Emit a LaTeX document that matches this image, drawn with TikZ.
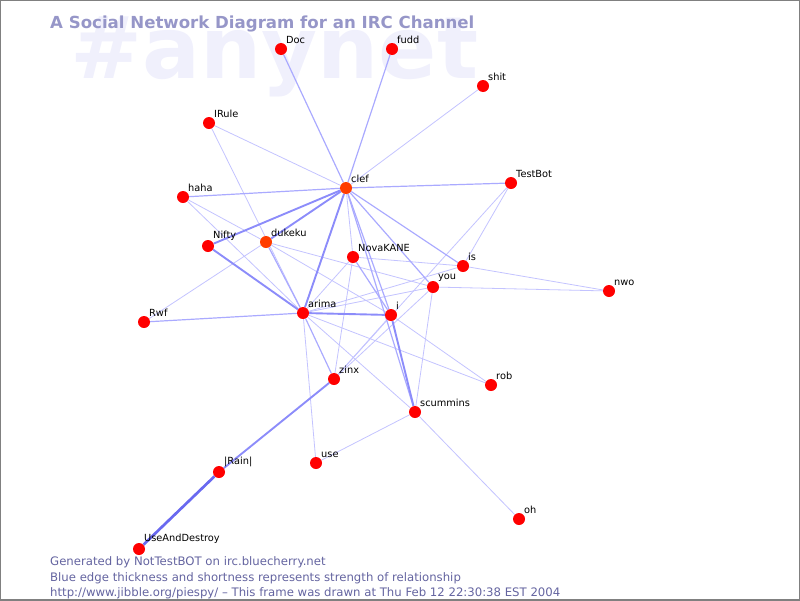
\documentclass[tikz,border=0pt]{standalone}
\usepackage{fontspec}
\usepackage{tikz}
\usetikzlibrary{backgrounds}
\newfontfamily\dvs{DejaVu Sans}
\definecolor{nick}{RGB}{255,0,0}
\definecolor{hot}{RGB}{255,60,0}
\definecolor{wm}{RGB}{240,240,252}
\definecolor{ttl}{RGB}{150,150,200}
\definecolor{foot}{RGB}{100,100,160}
\definecolor{eweak}{RGB}{195,195,255}
\definecolor{emid}{RGB}{170,170,255}
\definecolor{estrong}{RGB}{140,140,250}
\definecolor{etop}{RGB}{105,105,240}

\begin{document}
\begin{tikzpicture}
[x=1pt,y=-1pt]
\tikzset{nk/.style={circle,fill=nick,inner sep=0pt,minimum size=12pt}}
\tikzset{nkhot/.style={nk,fill=hot}}
\tikzset{lbl/.style={anchor=south west,inner sep=0.6pt,font=\dvs\fontsize{9.8}{11}\selectfont}}
\tikzset{ftr/.style={anchor=base west,inner sep=0pt,text=foot,font=\dvs\fontsize{11.7}{13}\selectfont}}
\tikzset{weak/.style={draw=eweak,line width=0.8pt}}
\tikzset{mid/.style={draw=emid,line width=1.2pt}}
\tikzset{strong/.style={draw=estrong,line width=1.9pt}}
\tikzset{top/.style={draw=etop,line width=2.7pt}}
\useasboundingbox (0,0) rectangle (800,600);
\draw[gray,line width=1.5pt] (0,0) rectangle (800,600);

\node [nk,label={[lbl]45:Doc}] (Doc) at (281,49) {};
\node [nk,label={[lbl]45:fudd}] (fudd) at (392,49) {};
\node [nk,label={[lbl]45:shit}] (shit) at (483,86) {};
\node [nk,label={[lbl]45:IRule}] (IRule) at (209,123) {};
\node [nk,label={[lbl]45:TestBot}] (TestBot) at (511,183) {};
\node [nkhot,label={[lbl]45:clef}] (clef) at (346,188) {};
\node [nk,label={[lbl]45:haha}] (haha) at (183,197) {};
\node [nk,label={[lbl]45:Nifty}] (Nifty) at (208,246) {};
\node [nkhot,label={[lbl]45:dukeku}] (dukeku) at (266,242) {};
\node [nk,label={[lbl]45:NovaKANE}] (NovaKANE) at (353,257) {};
\node [nk,label={[lbl]45:is}] (is) at (463,266) {};
\node [nk,label={[lbl]45:you}] (you) at (433,287) {};
\node [nk,label={[lbl]45:nwo}] (nwo) at (609,291) {};
\node [nk,label={[lbl]45:Rwf}] (Rwf) at (144,322) {};
\node [nk,label={[lbl]45:arima}] (arima) at (303,313) {};
\node [nk,label={[lbl]45:i}] (i) at (391,315) {};
\node [nk,label={[lbl]45:rob}] (rob) at (491,385) {};
\node [nk,label={[lbl]45:zinx}] (zinx) at (334,379) {};
\node [nk,label={[lbl]45:scummins}] (scummins) at (415,412) {};
\node [nk,label={[lbl]45:use}] (use) at (316,463) {};
\node [nk,label={[lbl]45:|Rain|}] (Rain) at (219,472) {};
\node [nk,label={[lbl]45:oh}] (oh) at (519,519) {};
\node [nk,label={[lbl]45:UseAndDestroy}] (UseAndDestroy) at (139,549) {};

\node [anchor=base west,inner sep=0pt,text=ttl,font=\dvs\bfseries\fontsize{16.6}{18}\selectfont] (title) at (50,28) {A Social Network Diagram for an IRC Channel};
\node [ftr] (gen) at (50,565) {Generated by NotTestBOT on irc.bluecherry.net};
\node [ftr] (blue) at (50,581) {Blue edge thickness and shortness represents strength of relationship};
\node [ftr] (url) at (50,596) {http://www.jibble.org/piespy/ – This frame was drawn at Thu Feb 12 22:30:38 EST 2004};

\begin{scope}[on background layer]
\node [anchor=base west,inner sep=0pt,text=wm,font=\dvs\bfseries\fontsize{86}{90}\selectfont] (chan) at (70,78) {\#anynet};
\foreach \from/\to in {clef/shit,clef/IRule,IRule/arima,haha/dukeku,haha/arima,Rwf/dukeku,dukeku/you,dukeku/i,arima/use,arima/scummins,arima/rob,arima/you,arima/is,arima/NovaKANE,NovaKANE/is,NovaKANE/zinx,i/zinx,i/rob,zinx/you,zinx/TestBot,TestBot/is,is/nwo,you/nwo,you/scummins,scummins/use,scummins/oh,clef/NovaKANE}
	\draw [weak] (\from) -- (\to);
\foreach \from/\to in {clef/haha,clef/Doc,clef/fudd,clef/TestBot,dukeku/arima,arima/zinx,Rwf/arima,NovaKANE/i,clef/i,clef/scummins,clef/you,clef/is}
	\draw [mid] (\from) -- (\to);
\foreach \from/\to in {clef/Nifty,clef/arima,Nifty/arima,zinx/Rain,i/scummins,clef/dukeku,arima/i}
	\draw [strong] (\from) -- (\to);
\draw [top] (Rain) -- (UseAndDestroy);
\end{scope}

\end{tikzpicture}
\end{document}
